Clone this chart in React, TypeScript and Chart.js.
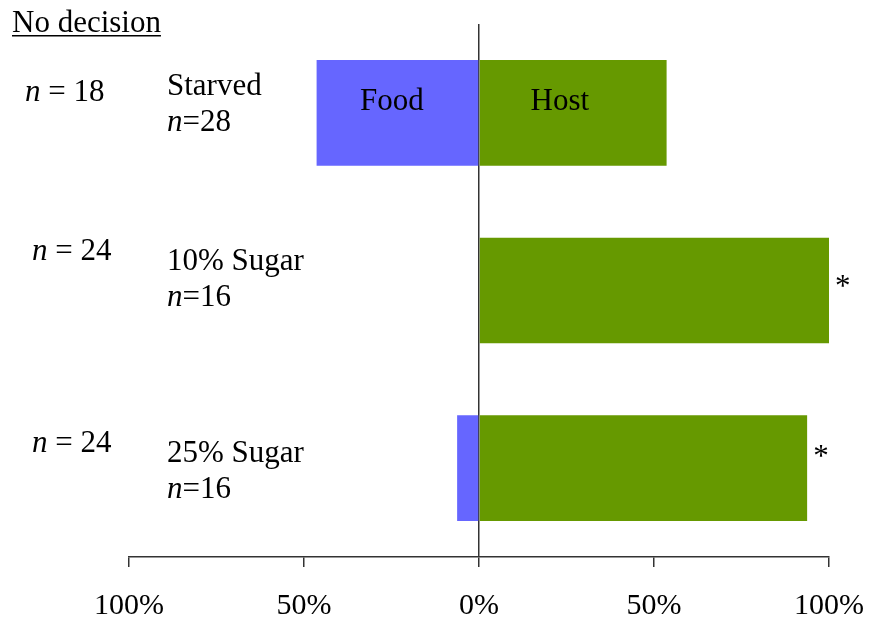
import React, { useEffect, useRef } from "react";
import { Chart, registerables } from "chart.js";

Chart.register(...registerables);

const categories = ["Starved", "10% Sugar", "25% Sugar"];
const groupSizes = ["n=28", "n=16", "n=16"];
const noDecision = ["n = 18", "n = 24", "n = 24"];
const foodValues = [-46.4, 0, -6.25];
const hostValues = [53.6, 100, 93.75];
const significant = [false, true, true];
const tickValues = [-100, -50, 0, 50, 100];

const FONT = '"Liberation Serif", "DejaVu Serif", serif';
// layout offsets (pixels relative to category centre)
const labelDy = [-18, -20.5, -6];
const nLeftDy = [-12, -30.5, -16];
const starDy = [0, -6, -13];

function drawItalicN(ctx: CanvasRenderingContext2D, text: string, x: number, y: number, size: number) {
  ctx.font = `italic ${size}px ${FONT}`;
  ctx.fillText("n", x, y);
  const w = ctx.measureText("n").width;
  ctx.font = `${size}px ${FONT}`;
  ctx.fillText(text.slice(1), x + w, y);
}

const annotations = {
  id: "annotations",
  afterDatasetsDraw(chart: any) {
    const ctx: CanvasRenderingContext2D = chart.ctx;
    const xs = chart.scales.x;
    const ys = chart.scales.y;
    ctx.save();
    ctx.fillStyle = "#000";
    ctx.textBaseline = "alphabetic";
    ctx.textAlign = "left";
    const size = 31;
    ctx.font = `${size}px ${FONT}`;
    ctx.fillText("No decision", 12, 32);
    const tw = ctx.measureText("No decision").width;
    ctx.fillRect(12, 35, tw, 1.5);

    categories.forEach((c, i) => {
      const yc = ys.getPixelForValue(i);
      const lx = 167;
      ctx.font = `${size}px ${FONT}`;
      ctx.fillText(c, lx, yc + labelDy[i]);
      drawItalicN(ctx, groupSizes[i], lx, yc + labelDy[i] + 36, size);
      const nx = i === 0 ? 25 : 32;
      drawItalicN(ctx, noDecision[i], nx, yc + nLeftDy[i], size);
      if (significant[i]) {
        const ex = xs.getPixelForValue(hostValues[i]);
        ctx.font = `${size}px ${FONT}`;
        ctx.fillText("*", ex + 6, yc + starDy[i] + 11);
      }
    });
    const y0 = ys.getPixelForValue(0);
    ctx.font = `${size}px ${FONT}`;
    ctx.textAlign = "center";
    ctx.fillText("Food", xs.getPixelForValue(foodValues[0] / 2) - 6, y0 - 3);
    ctx.fillText("Host", xs.getPixelForValue(hostValues[0] / 2) - 13, y0 - 3);
    ctx.restore();
  },
};

export default function App() {
  const ref = useRef<HTMLCanvasElement>(null);
  useEffect(() => {
    if (!ref.current) return;
    const chart = new Chart(ref.current, {
      type: "bar",
      data: {
        labels: categories,
        datasets: [
          { label: "Food", data: foodValues, backgroundColor: "#6666FF", borderWidth: 0 },
          { label: "Host", data: hostValues, backgroundColor: "#669900", borderWidth: 0 },
        ],
      },
      options: {
        indexAxis: "y",
        responsive: false,
        animation: false,
        devicePixelRatio: 1,
        datasets: { bar: { categoryPercentage: 1, barPercentage: 0.595 } },
        layout: { padding: { left: 129, right: 41, top: 24, bottom: 0 } },
        plugins: { legend: { display: false }, tooltip: { enabled: false } },
        scales: {
          x: {
            type: "linear",
            min: -100,
            max: 100,
            stacked: true,
            afterBuildTicks: (scale: any) => {
              scale.ticks = tickValues.map((v) => ({ value: v }));
            },
            afterFit: (scale: any) => {
              scale.height = 61;
              scale.paddingLeft = 0;
              scale.paddingRight = 0;
            },
            border: { display: true, color: "#333", width: 1.5 },
            grid: {
              color: (c: any) => (c.tick && c.tick.value === 0 ? "#333" : "rgba(0,0,0,0)"),
              lineWidth: 1.5,
              tickColor: "#333",
              tickLength: 10,
              drawOnChartArea: true,
            },
            ticks: {
              padding: 21,
              color: "#000",
              font: { family: FONT, size: 30 },
              callback: (v: any) => Math.abs(Number(v)) + "%",
              maxRotation: 0,
              autoSkip: false,
            },
          },
          y: {
            stacked: true,
            display: false,
          },
        },
      },
      plugins: [annotations],
    });
    return () => chart.destroy();
  }, []);
  return (
    <div style={{ position: "absolute", left: 0, top: 0, width: 870, height: 618, background: "#fff" }}>
      <canvas ref={ref} width={870} height={618} />
    </div>
  );
}
